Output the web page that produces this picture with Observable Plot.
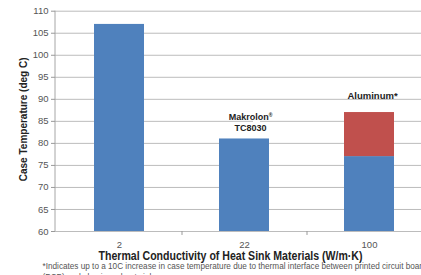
<!DOCTYPE html>
<html><head>
<meta charset="utf-8">
<script src="https://cdn.jsdelivr.net/npm/d3@7"></script>
<script src="https://cdn.jsdelivr.net/npm/@observablehq/plot@0.6"></script>
<style>
body{margin:0;background:#fff}
#c{position:relative;width:421px;height:275px;overflow:hidden}
</style>
</head><body><div id="c"></div>
<script>
const categories = ["2", "22", "100"];
const caseTemp = [107, 81, 77];
const interfaceRise = [0, 0, 10];
const materialLabels = ["", "Makrolon® \nTC8030", "Aluminum*"];
const yTicks = [60, 65, 70, 75, 80, 85, 90, 95, 100, 105, 110];
const yTitle = "Case Temperature (deg C)";
const xTitle = "Thermal Conductivity of Heat Sink Materials (W/m·K)";
const footnote = "*Indicates up to a 10C increase in case temperature due to thermal interface between printed circuit board\n(PCB) and aluminum heat sink";

const rows = [];
categories.forEach((c, i) => {
  rows.push({cat: c, series: "case", value: caseTemp[i]});
  rows.push({cat: c, series: "interface", value: interfaceRise[i]});
});
const totals = categories.map((c, i) => ({cat: c, total: caseTemp[i] + interfaceRise[i], label: materialLabels[i]}));

const font = "Liberation Sans, Arial, sans-serif";

const axisLine = (index, scales, values, dims) => {
  const g = d3.create("svg:g");
  g.append("line")
    .attr("x1", dims.marginLeft).attr("x2", dims.marginLeft)
    .attr("y1", scales.y(110)).attr("y2", scales.y(60))
    .attr("stroke", "#a6a6a6");
  return g.node();
};

const chart = Plot.plot({
  width: 421,
  height: 275,
  marginLeft: 55,
  marginRight: 0,
  marginTop: 10.7,
  marginBottom: 44,
  style: {fontFamily: font, background: "#fff", overflow: "hidden"},
  x: {domain: categories, range: [56, 431], paddingInner: 0.6, paddingOuter: 0.3, align: 0.5, label: null},
  y: {domain: [60, 110], label: null},
  color: {domain: ["case", "interface"], range: ["#4F81BD", "#C0504D"]},
  marks: [
    Plot.gridY(yTicks, {stroke: "#bcbcbc", strokeOpacity: 1, strokeWidth: 1}),
    Plot.barY(rows, {x: "cat", y: "value", fill: "series", clip: true}),
    Plot.rect(totals.filter(d => d.cat === "22"), {x: "cat", y1: 82.8, y2: 87.3, fill: "white", insetLeft: 34, insetRight: 9}),
    Plot.text(totals.filter(d => d.label === "Aluminum*"), {x: "cat", y: "total", text: "label", dy: -17, dx: 3, fontWeight: "bold", fontSize: 9.5, fill: "#222"}),
    Plot.text(totals.filter(d => d.cat === "22"), {x: "cat", y: "total", text: "label", lineAnchor: "bottom", dy: -8, dx: 6, fontWeight: "bold", fontSize: 9, lineHeight: 1.2, fill: "#222"}),
    Plot.ruleX(categories.slice(0, -1), {x: d => d, dx: 62.5, y1: 60, y2: 59.1, stroke: "#999"}),
    axisLine,
    Plot.axisY(yTicks, {tickSize: 4, tickPadding: 3, fontSize: 9.5, color: "#555", stroke: "#999", tickFormat: d => d}),
    Plot.axisX({tickSize: 0, tickPadding: 10, fontSize: 9.5, color: "#555"}),
    Plot.text([yTitle], {frameAnchor: "left", textAnchor: "middle", rotate: -90, dx: -32, dy: -2, fontWeight: "bold", fontSize: 10, fill: "#222"}),
    Plot.text([xTitle], {frameAnchor: "bottom", textAnchor: "middle", lineAnchor: "middle", dx: -8, dy: 24.5, fontWeight: "bold", fontSize: 12.5, fill: "#222"}),
    Plot.text([footnote], {frameAnchor: "bottom-left", textAnchor: "start", lineAnchor: "top", dx: -13, dy: 30, fontSize: 8.2, lineHeight: 1.34, fill: "#555"})
  ]
});
document.getElementById("c").appendChild(chart);

// superscript ® in the Makrolon label
chart.querySelectorAll("tspan, text").forEach(t => {
  if (t.childNodes.length === 1 && t.textContent.startsWith("Makrolon®")) {
    t.textContent = "Makrolon";
    const s = document.createElementNS("http://www.w3.org/2000/svg", "tspan");
    s.setAttribute("baseline-shift", "super");
    s.setAttribute("font-size", "5");
    s.textContent = "®";
    t.appendChild(s);
  }
});
// the x title is set in a narrower face in the reference: fit it to the same width
chart.querySelectorAll("text").forEach(t => {
  if (t.textContent === xTitle) {
    t.setAttribute("textLength", "264");
    t.setAttribute("lengthAdjust", "spacingAndGlyphs");
  }
});
</script>
</body></html>
